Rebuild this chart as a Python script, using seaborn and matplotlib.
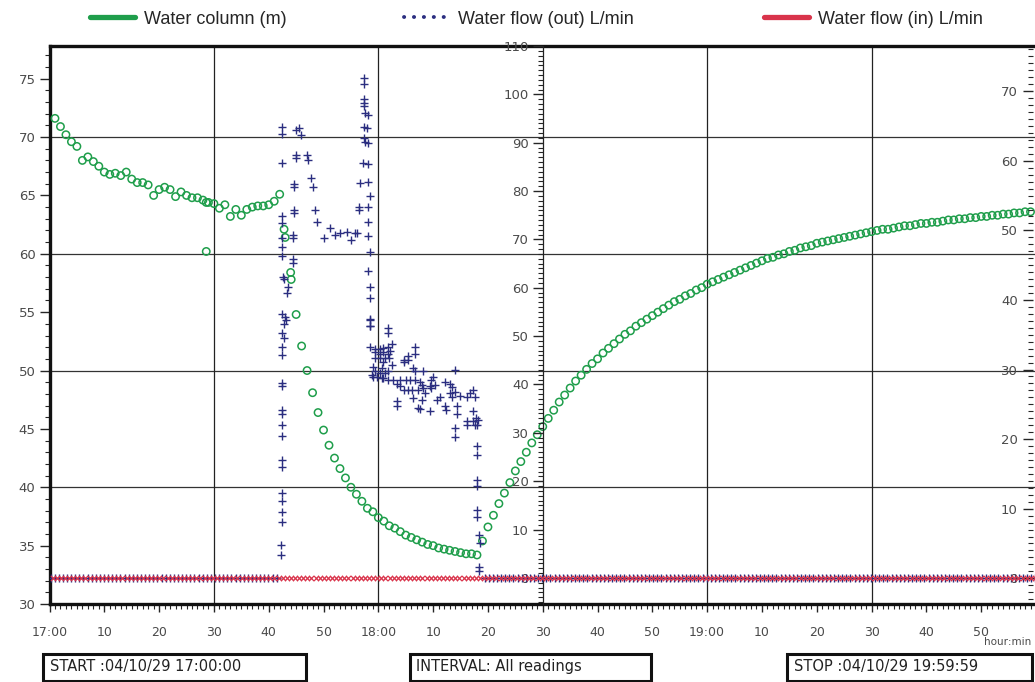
import numpy as np
import matplotlib
matplotlib.use("Agg")
import matplotlib.pyplot as plt
import seaborn as sns
from matplotlib.lines import Line2D
from matplotlib.patches import Rectangle
from matplotlib.ticker import MultipleLocator

# ---- data (time in minutes after 17:00) ----
# Water column (m)
col_min_a = list(range(1, 29)) + [28.6, 28.6] + list(range(29, 43)) + [42.8, 43.0, 44.0, 44.1]
col_m_a = [71.6, 70.9, 70.2, 69.6, 69.2, 68.0, 68.3, 67.9, 67.5, 67.0,
           66.8, 66.9, 66.7, 67.0, 66.4, 66.1, 66.1, 65.9, 65.0, 65.5,
           65.7, 65.5, 64.9, 65.3, 65.0, 64.8, 64.8, 64.6,
           64.4, 60.2,
           64.4, 64.3, 63.9, 64.2, 63.2, 63.8, 63.3, 63.8, 64.0, 64.1,
           64.1, 64.2, 64.5, 65.1,
           62.1, 61.4, 58.4, 57.8]
col_min_b = list(range(45, 180))
col_m_b = [54.8, 52.1, 50.0, 48.1, 46.4,
           44.9, 43.6, 42.5, 41.6, 40.8, 40.0, 39.4, 38.8, 38.2, 37.9,
           37.4, 37.1, 36.7, 36.5, 36.2, 35.9, 35.7, 35.5, 35.3, 35.1,
           35.0, 34.8, 34.7, 34.6, 34.5, 34.4, 34.3, 34.3, 34.2,
           35.4, 36.6, 37.6, 38.6, 39.5, 40.4, 41.4, 42.2, 43.0, 43.8, 44.5,
           45.2, 45.9, 46.6, 47.3, 47.9, 48.5, 49.1, 49.6, 50.1, 50.6, 51.0,
           51.5, 51.9, 52.3, 52.7, 53.1, 53.4, 53.8, 54.1, 54.4, 54.7,
           55.0, 55.3, 55.6, 55.9, 56.1, 56.4, 56.6, 56.9, 57.1, 57.4,
           57.6, 57.8, 58.0, 58.2, 58.4, 58.6, 58.8, 59.0, 59.2, 59.4,
           59.6, 59.7, 59.9, 60.0, 60.2, 60.3, 60.5, 60.6, 60.7, 60.9,
           61.0, 61.1, 61.2, 61.3, 61.4, 61.5, 61.6, 61.7, 61.8, 61.9,
           62.0, 62.1, 62.1, 62.2, 62.3, 62.4, 62.4, 62.5, 62.6, 62.6,
           62.7, 62.7, 62.8, 62.9, 62.9, 63.0, 63.0, 63.1, 63.1, 63.2,
           63.2, 63.3, 63.3, 63.4, 63.4, 63.5, 63.5, 63.6, 63.6]
col_min = col_min_a + col_min_b
col_m = col_m_a + col_m_b

# Water flow (out) L/min while the pump was drawing
out_min = [42.5, 42.5, 42.5, 42.5, 42.5, 42.5, 42.5, 42.5, 42.6, 42.8,
           43.6, 43.3, 42.5, 42.9, 43.1, 42.7, 42.5, 42.7, 42.5, 42.5,
           42.5, 42.5, 42.5, 42.5, 42.4, 42.4, 42.4, 42.4, 42.4, 42.4,
           42.4, 42.4, 42.3, 42.3,
           44.9, 45.6, 45.8, 44.9, 44.9, 44.7, 44.7, 44.6, 44.6, 44.5,
           44.5, 44.4, 44.4,
           46.9, 47.2, 47.8, 48.0, 48.4, 48.9,
           50.1, 51.1, 52.1, 53.0, 54.2, 55.1, 55.7, 56.1,
           57.3, 57.3, 57.4, 57.4, 57.4, 57.6, 58.2, 57.4, 57.9, 57.3,
           57.6, 58.2, 57.2, 58.2, 56.7, 58.2, 58.4, 56.4, 56.5, 58.2,
           58.2, 58.2, 58.4, 58.2, 58.4, 58.4, 58.4, 58.4,
           58.5, 58.5, 61.8, 61.8, 58.5, 59.4, 60.3, 60.9, 61.8, 62.5,
           59.4, 60.3, 60.9, 61.8, 62.2, 59.4, 60.3, 61.2, 62.0, 60.9,
           62.5, 59.1, 60.6, 61.8, 59.4, 60.3, 61.2, 58.8, 59.1, 59.7,
           60.6, 60.9, 61.8, 62.7, 64.6, 64.6, 65.5, 65.5, 66.7, 66.7,
           66.4, 66.7, 68.2, 64.0, 65.0, 65.8, 66.7, 63.4, 64.0, 64.6,
           65.5, 66.1, 67.6, 67.9, 67.3, 68.2, 69.7, 70.0, 69.4, 69.7,
           70.3, 72.2, 73.1, 73.4, 73.1, 73.4, 74.0, 74.0, 74.9, 76.1,
           76.7, 77.3, 77.6, 68.5, 67.9, 66.4, 71.3, 70.7, 72.2, 72.4,
           69.4, 67.3, 67.6, 63.4, 63.4, 74.3, 74.3, 77.3, 77.9, 76.1,
           76.1, 77.6, 74.0, 74.0, 77.3, 78.0, 78.2,
           78.0, 78.0, 78.0, 78.0, 78.0, 78.0, 78.3, 78.6, 78.4, 78.4]
out_lpm = [93.2, 91.8, 85.9, 74.9, 73.3, 70.2, 68.5, 66.6, 62.3, 61.9,
           60.2, 58.9, 54.6, 54.0, 53.3, 52.6, 50.7, 49.6, 47.8, 46.1,
           40.4, 39.6, 34.7, 33.9, 31.6, 29.4, 24.4, 23.0, 17.6, 15.8,
           13.7, 11.6, 6.8, 4.8,
           92.6, 93.0, 91.6, 87.5, 86.9, 81.5, 80.8, 76.1, 75.4, 70.9,
           70.2, 65.9, 65.2,
           87.5, 86.4, 82.6, 80.8, 76.1, 73.5,
           70.2, 72.3, 70.9, 71.3, 71.6, 69.9, 71.3, 71.4,
           103.3, 102.1, 99.0, 98.3, 97.5, 96.1, 95.7, 93.3, 93.0, 90.9,
           90.2, 90.0, 85.9, 85.6, 81.7, 81.9, 79.0, 76.8, 76.1, 76.8,
           73.5, 70.8, 67.3, 63.5, 60.2, 57.8, 53.5, 52.0,
           53.3, 52.0, 51.6, 50.6, 47.8, 47.3, 47.3, 47.5, 47.8, 48.3,
           46.8, 46.4, 46.8, 46.4, 47.0, 45.5, 45.5, 45.5, 45.5, 44.7,
           44.0, 43.7, 43.4, 42.8, 42.7, 42.3, 42.3, 42.0, 41.6, 41.6,
           41.3, 41.3, 40.9, 40.9, 45.1, 44.7, 45.8, 45.1, 47.8, 46.4,
           43.4, 42.7, 42.7, 40.9, 40.9, 40.9, 40.9, 40.2, 39.6, 38.9,
           38.9, 38.9, 40.6, 39.9, 38.9, 39.2, 40.9, 41.6, 39.6, 39.2,
           39.9, 40.6, 40.1, 39.4, 38.2, 37.5, 43.0, 38.5, 37.6, 37.4,
           38.2, 38.9, 37.4, 38.2, 36.8, 37.2, 37.5, 36.8, 35.6, 34.7,
           34.5, 35.2, 34.9, 36.5, 35.5, 35.5, 33.8, 34.5, 33.1, 32.4,
           31.7, 31.7, 30.9, 29.2, 32.4, 31.7, 32.7,
           27.2, 25.4, 20.3, 19.0, 14.1, 12.5, 8.9, 7.2, 2.3, 1.5]

# readings at zero flow (logger samples every 45 s)
idle_out_min = list(np.arange(0.2, 42.0, 0.75)) + list(np.arange(79.4, 180.0, 0.75))
idle_out_lpm = [0.0] * len(idle_out_min)
in_min = list(np.arange(0.55, 180.0, 0.75))
in_lpm = [0.0] * len(in_min)

x_ticks = list(range(0, 180, 10))
x_labels = ["17:00", "10", "20", "30", "40", "50",
            "18:00", "10", "20", "30", "40", "50",
            "19:00", "10", "20", "30", "40", "50"]

GREEN = "#1f9e4b"
NAVY = "#2b2e80"
RED = "#d9344b"
TICK_GREY = "#4a4a4a"

sns.set_style("white")
plt.rcParams["font.family"] = ["DejaVu Sans"]

W, H = 1035, 682
fig = plt.figure(figsize=(W / 100, H / 100), dpi=100)
ax = fig.add_axes([49.5 / W, 1 - 604 / H, (1036 - 49.5) / W, (604 - 46) / H])

# water column on the left axis
ax.set_xlim(0, 180)
ax.set_ylim(30, 77.8)
for v in [40, 50, 60, 70]:
    ax.axhline(v, color="#333333", lw=0.9, zorder=0)
for t in [30, 60, 120, 150]:
    ax.axvline(t, color="#222222", lw=0.9, zorder=0)

sns.scatterplot(x=col_min, y=col_m, ax=ax, marker="o", s=28,
                facecolors="none", edgecolors=GREEN, linewidth=1.1, zorder=3)

ax.xaxis.set_major_locator(plt.FixedLocator(x_ticks))
ax.set_xticklabels(x_labels)
ax.xaxis.set_minor_locator(MultipleLocator(1))
ax.yaxis.set_major_locator(MultipleLocator(5))
ax.yaxis.set_minor_locator(MultipleLocator(1))
ax.tick_params(axis="x", which="major", direction="out", length=6, width=1,
               pad=10, labelsize=9, labelcolor=TICK_GREY, bottom=True)
ax.tick_params(axis="x", which="minor", direction="out", length=3.5, width=0.8, bottom=True)
ax.tick_params(axis="y", which="major", direction="out", length=7, width=1,
               pad=3, labelsize=9.5, labelcolor=TICK_GREY, left=True)
ax.tick_params(axis="y", which="minor", direction="out", length=3.5, width=0.8, left=True)
for side in ["left", "top", "bottom"]:
    ax.spines[side].set_linewidth(2.4)
    ax.spines[side].set_color("#111111")
ax.spines["right"].set_visible(False)

# flow (out) on the middle axis at 18:30
ax2 = ax.twinx()
ax2.set_ylim(-5.4, 110)
ax2.yaxis.tick_left()
ax2.spines["left"].set_position(("axes", 0.5))
ax2.spines["left"].set_linewidth(0.9)
ax2.spines["left"].set_color("#222222")
for side in ["right", "top", "bottom"]:
    ax2.spines[side].set_visible(False)
ax2.yaxis.set_major_locator(MultipleLocator(10))
ax2.yaxis.set_minor_locator(MultipleLocator(1))
ax2.tick_params(axis="y", which="major", direction="out", length=7, width=1,
                pad=3, labelsize=9.5, labelcolor=TICK_GREY, left=True, right=False)
ax2.tick_params(axis="y", which="minor", direction="out", length=3.5, width=0.8,
                left=True, right=False)

# flow (in) on the right-hand axis
ax3 = ax.twinx()
ax3.set_ylim(-3.7, 76.5)
ax3.yaxis.tick_left()
ax3.spines["left"].set_position(("axes", 0.997))
ax3.spines["left"].set_edgecolor("none")
for side in ["right", "top", "bottom"]:
    ax3.spines[side].set_visible(False)
ax3.yaxis.set_major_locator(MultipleLocator(10))
ax3.yaxis.set_minor_locator(MultipleLocator(1))
ax3.tick_params(axis="y", which="major", direction="out", length=7, width=1,
                pad=4, labelsize=9.5, labelcolor=TICK_GREY, left=True, right=False)
ax3.tick_params(axis="y", which="minor", direction="out", length=3.5, width=0.8,
                left=True, right=False)

sns.scatterplot(x=idle_out_min, y=idle_out_lpm, ax=ax2, marker="+", s=30,
                color=NAVY, linewidth=1.0, zorder=4)
sns.scatterplot(x=out_min, y=out_lpm, ax=ax2, marker="+", s=36,
                color=NAVY, linewidth=1.0, zorder=4)
sns.scatterplot(x=in_min, y=in_lpm, ax=ax3, marker="x", s=14,
                color=RED, linewidth=0.9, zorder=5)

for a in (ax, ax2, ax3):
    a.set_xlabel("")
    a.set_ylabel("")
    a.set_xlim(0, 180)

fig.text(1008 / W, 1 - 642 / H, "hour:min", fontsize=7.5, color=TICK_GREY,
         ha="center", va="center")

# legend strip across the top
legend_items = [
    (Line2D([], [], color=GREEN, lw=3.8), "Water column (m)", 74),
    (Line2D([], [], color=NAVY, lw=2.8, linestyle=(0, (0.05, 2.5)),
            dash_capstyle="round"), "Water flow (out) L/min", 388),
    (Line2D([], [], color=RED, lw=3.8), "Water flow (in) L/min", 748),
]
for handle, label, x0 in legend_items:
    fig.legend([handle], [label], loc="center left",
               bbox_to_anchor=(x0 / W, 1 - 19 / H), frameon=False,
               handlelength=2.5, handletextpad=0.5,
               prop={"family": ["Liberation Sans", "DejaVu Sans"], "size": 13})

# info boxes along the bottom
boxes = [
    (43, 306, 50, "START :04/10/29 17:00:00"),
    (410, 651, 416, "INTERVAL: All readings"),
    (787, 1032, 794, "STOP :04/10/29 19:59:59"),
]
for x0, x1, tx, text in boxes:
    fig.add_artist(Rectangle((x0 / W, 1 - 681 / H), (x1 - x0) / W, 27 / H,
                             transform=fig.transFigure, fill=False,
                             lw=2.2, edgecolor="#111111"))
    fig.text(tx / W, 1 - 667 / H, text, fontsize=10.5, color="#222222",
             ha="left", va="center")

fig.savefig("out.png", dpi=100)
